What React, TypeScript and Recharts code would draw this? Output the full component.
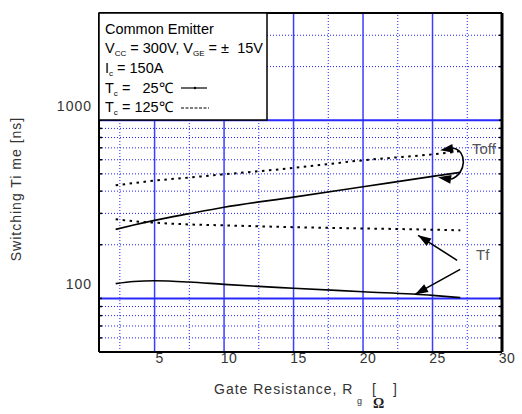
import React from "react";
import { LineChart, Line, XAxis, YAxis, ReferenceLine } from "recharts";

// gate resistance samples [ohm]
const rg = [2.2, 3.5, 5, 7.5, 10, 15, 20, 25, 27];
// switching times [ns]
const toff25 = [244, 258, 274, 299, 325, 370, 423, 484, 510];
const toff125 = [431, 444, 458, 477, 497, 540, 596, 644, 670];
const tf125 = [278, 271, 266, 260, 257, 251, 247, 243, 241];
const tf25 = [121, 124.5, 125.5, 123.5, 119.8, 114, 109, 104, 101];

const xTicks = [5, 10, 15, 20, 25, 30];
const yTicks = [100, 1000];
const xMajor = [5, 10, 15, 20, 25];
const xMinor = [2.5, 7.5, 12.5, 17.5, 22.5, 27.5];
const yMajor = [100, 1000];
const yMinor = [60, 70, 80, 90, 200, 300, 400, 500, 600, 700, 800, 900, 2000, 3000];

// annotation arrows, in data units: [tail, tip]
const tfArrows = [
  [{ x: 26.77, y: 163.5 }, { x: 23.96, y: 226 }],
  [{ x: 26.99, y: 145.5 }, { x: 23.74, y: 105.3 }],
];
const toffBracket = [{ x: 25.55, y: 678 }, { x: 25.4, y: 478 }];

const data = rg.map((x, i) => ({
  rg: x,
  toff25: toff25[i],
  toff125: toff125[i],
  tf125: tf125[i],
  tf25: tf25[i],
}));

const FONT = "'Liberation Sans', Arial, sans-serif";
const BLUE = "#2020ff";

const head = (tx: number, ty: number, fx: number, fy: number, len = 13, half = 4.5) => {
  const dx = tx - fx;
  const dy = ty - fy;
  const d = Math.hypot(dx, dy) || 1;
  const ux = dx / d;
  const uy = dy / d;
  const bx = tx - ux * len;
  const by = ty - uy * len;
  return `${tx},${ty} ${bx - uy * half},${by + ux * half} ${bx + uy * half},${by - ux * half}`;
};

const StraightArrow = (p: any) => {
  const { x1, y1, x2, y2 } = p;
  return (
    <g>
      <line x1={x1} y1={y1} x2={x2} y2={y2} stroke="#000" strokeWidth={1.6} />
      <polygon points={head(x2, y2, x1, y1)} fill="#000" />
    </g>
  );
};

const CurvedBracket = (p: any) => {
  const { x1, y1, x2, y2 } = p;
  const ax = x1 + 13;
  const ay = y1 - 2;
  const bx = x2 + 13;
  const by = y2 + 2;
  return (
    <g>
      <path
        d={`M${ax},${ay} C${ax + 14},${ay + 2} ${bx + 16},${by - 6} ${bx},${by}`}
        fill="none"
        stroke="#000"
        strokeWidth={1.6}
      />
      <polygon points={head(x1, y1, ax, ay)} fill="#000" />
      <polygon points={head(x2, y2, bx, by)} fill="#000" />
    </g>
  );
};

const HGrid = (dash: boolean, color: string, width: number) => (p: any) => {
  const { x1, y1, x2, y2 } = p;
  return (
    <g>
      <line x1={x1} y1={y1} x2={x2} y2={y2} stroke={color} strokeWidth={width} strokeDasharray={dash ? "1 2" : undefined} />
      <line x1={x1} y1={y1} x2={x1 + 3} y2={y1} stroke="#000" strokeWidth={1.5} />
      <line x1={x2 - 3} y1={y2} x2={x2} y2={y2} stroke="#000" strokeWidth={1.5} />
    </g>
  );
};

const XTick = (p: any) => (
  <text x={p.x + 5} y={363} textAnchor="middle" fontSize={14} fill="#333" fontFamily={FONT} letterSpacing={0.5}>
    {p.payload.value}
  </text>
);

const YTick = (p: any) => (
  <text x={92} y={p.y - 9} textAnchor="end" fontSize={14} fill="#333" fontFamily={FONT} letterSpacing={1}>
    {p.payload.value}
  </text>
);

const sub = (s: string) => (
  <tspan fontSize={8} dy={3}>{s}</tspan>
);

const pre = { whiteSpace: "pre" as const };

export default function App() {
  return (
    <div style={{ position: "absolute", left: 0, top: 0, width: 522, height: 414, background: "#fff" }}>
      <LineChart width={522} height={414} data={data} margin={{ top: 13, right: 20, left: 0, bottom: 0 }}>
        <XAxis
          dataKey="rg"
          type="number"
          domain={[1, 30]}
          ticks={xTicks}
          allowDataOverflow
          height={62}
          tickLine={false}
          axisLine={{ stroke: "#000", strokeWidth: 2 }}
          tick={XTick}
        />
        <YAxis
          type="number"
          scale="log"
          domain={[50, 4000]}
          ticks={yTicks}
          allowDataOverflow
          width={99}
          tickLine={false}
          axisLine={{ stroke: "#000", strokeWidth: 2 }}
          tick={YTick}
        />
        {xMinor.map((v) => (
          <ReferenceLine key={"xm" + v} x={v} stroke={BLUE} strokeWidth={1} strokeDasharray="1 2" zIndex={-50} />
        ))}
        {xMajor.map((v) => (
          <ReferenceLine key={"xM" + v} x={v} stroke="#3d3dff" strokeWidth={1.5} zIndex={-50} />
        ))}
        {yMinor.map((v) => (
          <ReferenceLine key={"ym" + v} y={v} stroke={BLUE} zIndex={-50} shape={HGrid(true, BLUE, 1)} />
        ))}
        {yMajor.map((v) => (
          <ReferenceLine key={"yM" + v} y={v} stroke="#2a2aff" zIndex={-50} shape={HGrid(false, "#2a2aff", 2)} />
        ))}
        <ReferenceLine y={4000} stroke="#000" strokeWidth={2} />
        <ReferenceLine x={30} stroke="#000" strokeWidth={3} />

        <Line dataKey="toff125" type="monotone" stroke="#000" strokeWidth={2} strokeDasharray="2.5 4.5" dot={false} isAnimationActive={false} />
        <Line dataKey="toff25" type="monotone" stroke="#000" strokeWidth={1.6} dot={false} isAnimationActive={false} />
        <Line dataKey="tf125" type="monotone" stroke="#000" strokeWidth={2} strokeDasharray="2.5 4.5" dot={false} isAnimationActive={false} />
        <Line dataKey="tf25" type="monotone" stroke="#000" strokeWidth={1.6} dot={false} isAnimationActive={false} />

        {tfArrows.map((seg, i) => (
          <ReferenceLine key={"tf" + i} segment={seg} stroke="#000" ifOverflow="visible" zIndex={1500} shape={StraightArrow} />
        ))}
        <ReferenceLine segment={toffBracket} stroke="#000" ifOverflow="visible" zIndex={1500} shape={CurvedBracket} />
      </LineChart>

      <svg width={522} height={414} style={{ position: "absolute", left: 0, top: 0, pointerEvents: "none" }} fontFamily={FONT}>
        {/* condition box */}
        <rect x={99} y={13} width={168} height={107} fill="#fff" stroke="#000" strokeWidth={1.5} />
        <g fontSize={14.5} fill="#000">
          <text x={105} y={34}>Common Emitter</text>
          <text x={105} y={53} style={pre}>
            V{sub("CC")}<tspan dy={-3}>{" = 300V, V"}</tspan>
            {sub("GE")}<tspan dy={-3}>{" = ±  15V"}</tspan>
          </text>
          <text x={105} y={73} style={pre}>
            I{sub("c")}<tspan dy={-3}>{" = 150A"}</tspan>
          </text>
          <text x={105} y={93} style={pre}>
            T{sub("c")}<tspan dy={-3}>{" =   25℃"}</tspan>
          </text>
          <text x={105} y={112} style={pre}>
            T{sub("c")}<tspan dy={-3}>{" = 125℃"}</tspan>
          </text>
        </g>
        <line x1={181} y1={88} x2={207} y2={88} stroke="#000" strokeWidth={1.2} />
        <circle cx={195} cy={88} r={1.2} fill="#000" />
        <line x1={181} y1={108} x2={209} y2={108} stroke="#000" strokeWidth={1.2} strokeDasharray="3 1.5" />

        {/* curve labels */}
        <text x={472} y={154} fontSize={15} fill="#555">Toff</text>
        <text x={476} y={260} fontSize={15} fill="#555">Tf</text>

        {/* axis titles */}
        <text x={214} y={394} fontSize={14} fill="#333" letterSpacing={1}>Gate Resistance, R</text>
        <text x={357} y={404} fontSize={9} fill="#333">g</text>
        <text x={372} y={394} fontSize={14} fill="#333">[</text>
        <text x={393} y={394} fontSize={14} fill="#333">]</text>
        <text x={373} y={408} fontSize={14} fontWeight="bold" fill="#222" fontFamily="'Liberation Serif', serif">Ω</text>
        <text
          x={17}
          y={189}
          fontSize={14}
          fill="#333"
          letterSpacing={1}
          textAnchor="middle"
          transform="rotate(-90 17 189)"
          dominantBaseline="middle"
        >
          Switching Ti me [ns]
        </text>
      </svg>
    </div>
  );
}
